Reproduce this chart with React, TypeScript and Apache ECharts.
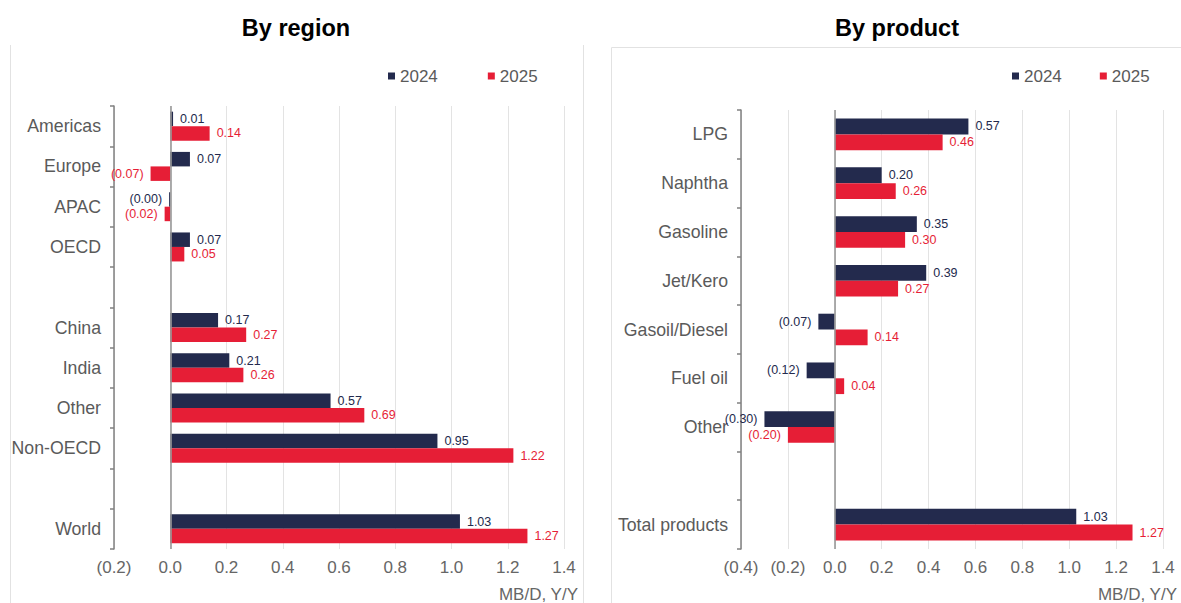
import React, { useEffect, useRef } from 'react';
import * as echarts from 'echarts';

// Demand growth, MB/D year on year
const regionCategories = ['Americas', 'Europe', 'APAC', 'OECD', '', 'China', 'India', 'Other', 'Non-OECD', ' ', 'World'];
const region2024: (number | null)[] = [0.01, 0.07, -0.004, 0.07, null, 0.17, 0.21, 0.57, 0.95, null, 1.03];
const region2025: (number | null)[] = [0.14, -0.07, -0.02, 0.05, null, 0.27, 0.26, 0.69, 1.22, null, 1.27];

const productCategories = ['LPG', 'Naphtha', 'Gasoline', 'Jet/Kero', 'Gasoil/Diesel', 'Fuel oil', 'Other', '', 'Total products'];
const product2024: (number | null)[] = [0.57, 0.2, 0.35, 0.39, -0.07, -0.12, -0.3, null, 1.03];
const product2025: (number | null)[] = [0.46, 0.26, 0.3, 0.27, 0.14, 0.04, -0.2, null, 1.27];

const seriesNames = ['2024', '2025'];
const regionScale = { min: -0.2, max: 1.4, interval: 0.2 };
const productScale = { min: -0.4, max: 1.4, interval: 0.2 };

const NAVY = '#232a4d';
const RED = '#e61e36';
const FONT = "'Liberation Sans', Arial, sans-serif";
const GRAY_TEXT = '#5a5a5a';

// Negative numbers are written in accounting style: (0.07)
const fmt = (v: number, digits: number) =>
  v < 0 ? `(${Math.abs(v).toFixed(digits)})` : v.toFixed(digits);

const barData = (values: (number | null)[]) =>
  values.map((v) =>
    v === null ? '-' : { value: v, label: { position: v < 0 ? 'left' : 'right' } }
  );

function makeBar(name: string, color: string, values: (number | null)[], axisIndex: number, barWidth: number, zeroLine: boolean) {
  const s: any = {
    name,
    type: 'bar',
    xAxisIndex: axisIndex,
    yAxisIndex: axisIndex,
    data: barData(values),
    barWidth,
    barGap: '0%',
    itemStyle: { color },
    label: {
      show: true,
      distance: 7,
      color,
      fontSize: 12.5,
      fontFamily: FONT,
      formatter: (p: any) => fmt(Number(p.value), 2),
    },
  };
  if (zeroLine) {
    s.markLine = {
      silent: true,
      symbol: ['none', 'none'],
      label: { show: false },
      lineStyle: { color: '#999999', width: 1.6, type: 'solid' },
      data: [{ xAxis: 0 }],
    };
  }
  return s;
}

const valueAxis = (gridIndex: number, scale: { min: number; max: number; interval: number }) => ({
  type: 'value',
  gridIndex,
  min: scale.min,
  max: scale.max,
  interval: scale.interval,
  axisLine: { show: false },
  axisTick: { show: false },
  splitLine: { show: true, lineStyle: { color: '#e3e3e3', width: 1 } },
  axisLabel: {
    color: '#666666',
    fontSize: 17,
    fontFamily: FONT,
    margin: 10,
    formatter: (v: number) => fmt(v, 1),
  },
});

const categoryAxis = (gridIndex: number, data: string[]) => ({
  type: 'category',
  gridIndex,
  inverse: true,
  data,
  axisLine: { show: true, onZero: false, lineStyle: { color: '#808080', width: 1.5 } },
  axisTick: { show: true, length: 4, lineStyle: { color: '#808080', width: 1.5 } },
  axisLabel: { color: GRAY_TEXT, fontSize: 17.7, fontFamily: FONT, margin: 13 },
});

const legend = (left: number, itemGap: number) => ({
  data: seriesNames,
  left,
  top: 67,
  padding: 0,
  icon: 'rect',
  itemWidth: 7,
  itemHeight: 7,
  itemGap,
  selectedMode: false,
  textStyle: { color: GRAY_TEXT, fontSize: 17, fontFamily: FONT, lineHeight: 18 },
});

const borderStyle = { stroke: '#e2e2e2', lineWidth: 1 };

export default function App() {
  const ref = useRef<HTMLDivElement>(null);

  useEffect(() => {
    if (!ref.current) return;
    const chart = echarts.init(ref.current, undefined, { renderer: 'svg' });
    chart.setOption({
      animation: false,
      backgroundColor: '#ffffff',
      textStyle: { fontFamily: FONT },
      legend: [legend(388, 50), legend(1012, 38)],
      grid: [
        { left: 114, top: 106, width: 450, height: 443, containLabel: false },
        { left: 741, top: 110, width: 422, height: 439, containLabel: false },
      ],
      xAxis: [valueAxis(0, regionScale), valueAxis(1, productScale)],
      yAxis: [categoryAxis(0, regionCategories), categoryAxis(1, productCategories)],
      series: [
        makeBar(seriesNames[0], NAVY, region2024, 0, 14.5, true),
        makeBar(seriesNames[1], RED, region2025, 0, 14.5, false),
        makeBar(seriesNames[0], NAVY, product2024, 1, 15.8, true),
        makeBar(seriesNames[1], RED, product2025, 1, 15.8, false),
      ],
      graphic: [
        // panel frames
        { type: 'line', shape: { x1: 10.5, y1: 45, x2: 10.5, y2: 603 }, style: borderStyle, silent: true },
        { type: 'line', shape: { x1: 583.5, y1: 45, x2: 583.5, y2: 603 }, style: borderStyle, silent: true },
        { type: 'line', shape: { x1: 611.5, y1: 47.5, x2: 1181, y2: 47.5 }, style: borderStyle, silent: true },
        { type: 'line', shape: { x1: 611.5, y1: 47.5, x2: 611.5, y2: 603 }, style: borderStyle, silent: true },
        // panel titles
        {
          type: 'text', x: 296, y: 28,
          style: { text: 'By region', fill: '#000', font: `bold 23.5px ${FONT}`, textAlign: 'center', textVerticalAlign: 'middle' },
        },
        {
          type: 'text', x: 897, y: 28,
          style: { text: 'By product', fill: '#000', font: `bold 23.5px ${FONT}`, textAlign: 'center', textVerticalAlign: 'middle' },
        },
        // unit captions
        {
          type: 'text', x: 578, y: 594,
          style: { text: 'MB/D, Y/Y', fill: '#666666', font: `17px ${FONT}`, textAlign: 'right', textVerticalAlign: 'middle' },
        },
        {
          type: 'text', x: 1177, y: 594,
          style: { text: 'MB/D, Y/Y', fill: '#666666', font: `17px ${FONT}`, textAlign: 'right', textVerticalAlign: 'middle' },
        },
      ],
    });
    return () => chart.dispose();
  }, []);

  return (
    <div
      ref={ref}
      style={{ position: 'absolute', left: 0, top: 0, width: 1181, height: 603 }}
    />
  );
}
